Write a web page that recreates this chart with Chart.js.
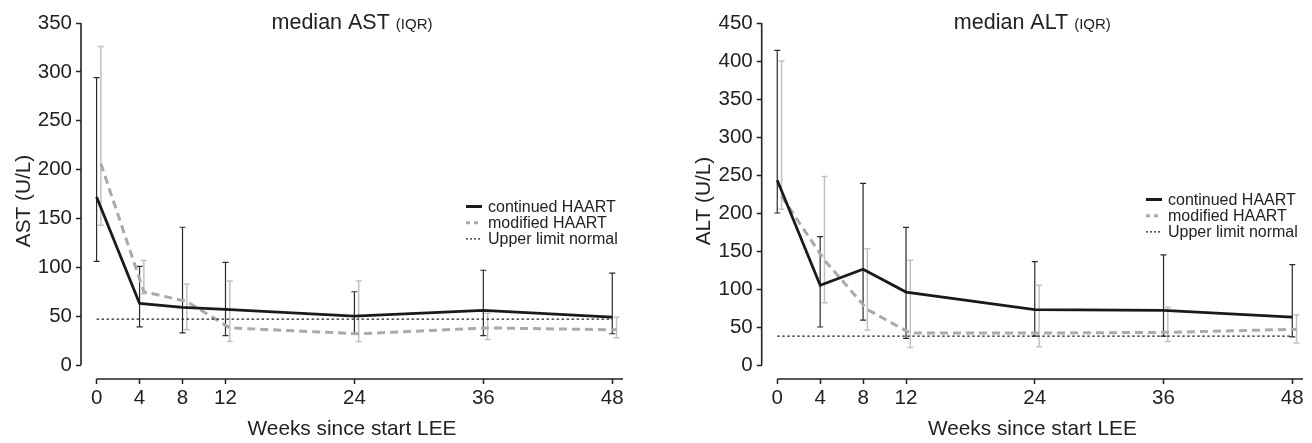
<!DOCTYPE html>
<html>
<head>
<meta charset="utf-8">
<script src="https://cdn.jsdelivr.net/npm/chart.js@4"></script>
<style>
  body { margin: 0; background: #fff; }
  .box { position: absolute; top: 0; width: 656px; height: 443px; }
</style>
</head>
<body>
<div class="box" style="left:0"><canvas id="astChart"></canvas></div>
<div class="box" style="left:656px"><canvas id="altChart"></canvas></div>
<script>
// weeks since start LEE
const weeks = [0, 4, 8, 12, 24, 36, 48];
const modDodge = 0.4;

// AST (U/L)
const astContMed = [172, 63, 59, 57, 50, 56, 49];
const astContQ1 = [106, 39, 33, 30, 32, 30, 32];
const astContQ3 = [294, 101, 141, 105, 75, 97, 94];
const astModMed = [206, 75, 65, 38, 32, 38, 36];
const astModQ1 = [143, 73, 36, 24, 24, 26, 28];
const astModQ3 = [326, 107, 83, 86, 86, 53, 49];
const astUln = 47;
const astTicks = [0, 50, 100, 150, 200, 250, 300, 350];

// ALT (U/L)
const altContMed = [243, 105, 126, 96, 73, 72, 63];
const altContQ1 = [200, 50, 59, 35, 38, 38, 37];
const altContQ3 = [414, 169, 239, 181, 136, 145, 132];
const altModMed = [222, 138, 73, 42, 42, 43, 47];
const altModQ1 = [205, 82, 46, 23, 24, 31, 29];
const altModQ3 = [400, 248, 153, 138, 105, 76, 66];
const altUln = 38;
const altTicks = [0, 50, 100, 150, 200, 250, 300, 350, 400, 450];

const legendLabels = ['continued HAART', 'modified HAART', 'Upper limit normal'];
const FONT = '"Liberation Sans", Arial, sans-serif';
const INK = '#222';

const decor = {
  id: 'decor',
  beforeDatasetsDraw(chart) {
    const { ctx, chartArea: a, scales: { x, y } } = chart;
    ctx.save();
    ctx.strokeStyle = INK;
    ctx.lineWidth = 1.6;
    ctx.beginPath();
    ctx.moveTo(a.left, y.getPixelForValue(0));
    ctx.lineTo(a.left, y.getPixelForValue(y.max));
    ctx.moveTo(x.getPixelForValue(0), a.bottom);
    ctx.lineTo(a.right, a.bottom);
    ctx.stroke();

    chart.data.datasets.forEach(ds => {
      if (!ds.q1) return;
      ctx.strokeStyle = ds.barColor;
      ctx.lineWidth = ds.barWidth;
      ds.data.forEach((p, i) => {
        const px = x.getPixelForValue(p.x);
        const lo = y.getPixelForValue(ds.q1[i]);
        const hi = y.getPixelForValue(ds.q3[i]);
        ctx.beginPath();
        ctx.moveTo(px, lo); ctx.lineTo(px, hi);
        ctx.moveTo(px - 3, lo); ctx.lineTo(px + 3, lo);
        ctx.moveTo(px - 3, hi); ctx.lineTo(px + 3, hi);
        ctx.stroke();
      });
    });
    ctx.restore();
  },
  afterDraw(chart, args, opts) {
    const { ctx, chartArea: a } = chart;
    ctx.save();
    ctx.fillStyle = INK;
    ctx.textBaseline = 'alphabetic';
    // title with small "(IQR)"
    ctx.font = '21.5px ' + FONT;
    const main = opts.title + ' ';
    const w1 = ctx.measureText(main).width;
    ctx.font = '15px ' + FONT;
    const w2 = ctx.measureText('(IQR)').width;
    const tx = (a.left + a.right) / 2 - (w1 + w2) / 2;
    ctx.font = '21.5px ' + FONT;
    ctx.textAlign = 'left';
    ctx.fillText(main, tx, 29);
    ctx.font = '15px ' + FONT;
    ctx.fillText('(IQR)', tx + w1, 29);

    // legend
    const lx = a.right - 157;
    ctx.font = '16px ' + FONT;
    ctx.textBaseline = 'middle';
    const styles = [
      { c: '#1a1a1a', w: 3, d: [] },
      { c: '#aaaaaa', w: 3, d: [4, 4] },
      { c: INK, w: 1.2, d: [2, 2] }
    ];
    legendLabels.forEach((t, i) => {
      const ly = opts.legendY + i * 16.2;
      ctx.strokeStyle = styles[i].c;
      ctx.lineWidth = styles[i].w;
      ctx.setLineDash(styles[i].d);
      ctx.beginPath();
      ctx.moveTo(lx, ly); ctx.lineTo(lx + 16, ly);
      ctx.stroke();
      ctx.setLineDash([]);
      ctx.fillText(t, lx + 22, ly + 1);
    });
    ctx.restore();
  }
};

function makeChart(id, s) {
  const pts = (xs, ys, dx) => xs.map((w, i) => ({ x: w + dx, y: ys[i] }));
  new Chart(document.getElementById(id), {
    type: 'line',
    data: {
      datasets: [
        {
          data: [{ x: weeks[0], y: s.uln }, { x: weeks[weeks.length - 1], y: s.uln }],
          borderColor: INK, borderWidth: 1.2, borderDash: [2.5, 2.5],
          pointRadius: 0
        },
        {
          data: pts(weeks, s.contMed, 0), q1: s.contQ1, q3: s.contQ3,
          barColor: '#2a2a2a', barWidth: 1.2,
          borderColor: '#1a1a1a', borderWidth: 2.8, pointRadius: 0
        },
        {
          data: pts(weeks, s.modMed, modDodge), q1: s.modQ1, q3: s.modQ3,
          barColor: '#c2c2c2', barWidth: 1.5,
          borderColor: '#aaaaaa', borderWidth: 3, borderDash: [8, 5], pointRadius: 0
        }
      ]
    },
    options: {
      responsive: true,
      maintainAspectRatio: false,
      animation: false,
      layout: { padding: { left: 0, right: s.padRight, top: 23, bottom: 0 } },
      plugins: {
        legend: { display: false },
        tooltip: { enabled: false },
        decor: { title: s.title, legendY: s.legendY }
      },
      scales: {
        x: {
          type: 'linear', min: -1.45, max: 49,
          afterBuildTicks: sc => { sc.ticks = weeks.map(v => ({ value: v })); },
          afterFit: sc => { sc.height = 64; },
          border: { display: false },
          grid: { drawOnChartArea: false, tickLength: 5, tickWidth: 1.5, tickColor: INK },
          ticks: { font: { family: FONT, size: 20.5 }, color: INK, padding: 2, maxRotation: 0 },
          title: { display: true, text: 'Weeks since start LEE', font: { family: FONT, size: 20.8 }, color: INK, padding: { top: 0, bottom: 1 } }
        },
        y: {
          min: s.yMin, max: s.ticks[s.ticks.length - 1],
          afterBuildTicks: sc => { sc.ticks = s.ticks.map(v => ({ value: v })); },
          afterFit: sc => { sc.width = s.yWidth; },
          border: { display: false },
          grid: { drawOnChartArea: false, tickLength: 5, tickWidth: 1.5, tickColor: INK },
          ticks: { font: { family: FONT, size: 20.5 }, color: INK, padding: 4 },
          title: { display: true, text: s.yTitle, font: { family: FONT, size: 20.8 }, color: INK, padding: { top: s.yTitlePad, bottom: 0 } }
        }
      }
    },
    plugins: [decor]
  });
}

makeChart('astChart', {
  contMed: astContMed, contQ1: astContQ1, contQ3: astContQ3,
  modMed: astModMed, modQ1: astModQ1, modQ3: astModQ3,
  uln: astUln, ticks: astTicks, yMin: -14.3,
  title: 'median AST', yTitle: 'AST (U/L)',
  yWidth: 81, yTitlePad: 12, padRight: 33, legendY: 206.5
});

makeChart('altChart', {
  contMed: altContMed, contQ1: altContQ1, contQ3: altContQ3,
  modMed: altModMed, modQ1: altModQ1, modQ3: altModQ3,
  uln: altUln, ticks: altTicks, yMin: -18.4,
  title: 'median ALT', yTitle: 'ALT (U/L)',
  yWidth: 105.7, yTitlePad: 35.7, padRight: 9, legendY: 199.5
});
</script>
</body>
</html>
